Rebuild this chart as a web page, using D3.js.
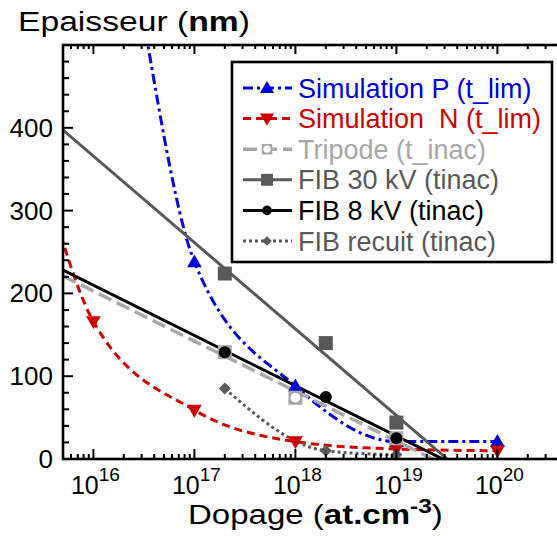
<!DOCTYPE html>
<html><head><meta charset="utf-8">
<script src="https://cdn.jsdelivr.net/npm/d3@7"></script>
<style>
body{margin:0;background:#fff}
svg{display:block}
text{font-family:"Liberation Sans",Arial,sans-serif;white-space:pre}
</style>
</head><body><svg id="c" width="557" height="536"></svg>
<script>
// ---------- data ----------
const yTicks = [0, 100, 200, 300, 400];
const xDecades = [1e16, 1e17, 1e18, 1e19, 1e20];
const xDecadeExps = ["16", "17", "18", "19", "20"];

const simPX = [3.3e16, 1e17, 1e18, 1e19, 1e20];
const simPY = [515, 238, 88, 21, 21];
const simNX = [4e15, 1e16, 1e17, 1e18, 1e19, 1e20];
const simNY = [300, 166, 59, 21, 12, 10];
const tripodeX = [2e17, 1e18, 1e19];
const tripodeY = [129, 74, 25];
const fib30X = [2e17, 2e18, 1e19];
const fib30Y = [224, 140, 44];
const fib8X = [2e17, 2e18, 1e19];
const fib8Y = [129, 75, 25];
const recuitX = [2e17, 2e18, 1e19];
const recuitY = [85, 10, 5];

const legendLabels = ["Simulation P (t_lim)", "Simulation  N (t_lim)", "Tripode (t_inac)",
  "FIB 30 kV (tinac)", "FIB 8 kV (tinac)", "FIB recuit (tinac)"];

// ---------- setup ----------
const svg = d3.select("#c");
const x = d3.scaleLog().domain([5e15, 5e20]).range([63, 568]);
const y = d3.scaleLinear().domain([0, 500]).range([459, 45]);
const X0 = x.range()[0], X1 = x.range()[1], Y0 = y.range()[0], Y1 = y.range()[1];

const defs = svg.append("defs");
defs.append("clipPath").attr("id", "plotClip").append("rect")
  .attr("x", X0).attr("y", Y1).attr("width", X1 - X0).attr("height", Y0 - Y1);
defs.append("clipPath").attr("id", "markClip").append("rect")
  .attr("x", X0 + 1).attr("y", Y1).attr("width", X1 - X0).attr("height", Y0 - Y1 + 15);

const zip = (xs, ys) => xs.map((v, i) => [v, ys[i]]);

const styles = {
  simP: {color: "#0000dd", dash: "10,4,3,4", width: 3},
  simN: {color: "#cc0000", dash: "8,5", width: 3},
  tripode: {color: "#a8a8a8", dash: "14,6", width: 3.5},
  fib30: {color: "#595959", dash: null, width: 3},
  fib8: {color: "#000000", dash: null, width: 3},
  recuit: {color: "#5a5a5a", dash: "3,3", width: 3}
};

function logFit(xs, ys) {
  const lx = xs.map(Math.log10);
  const mx = d3.mean(lx), my = d3.mean(ys);
  let sxy = 0, sxx = 0;
  lx.forEach((v, i) => { sxy += (v - mx) * (ys[i] - my); sxx += (v - mx) * (v - mx); });
  const b = sxy / sxx;
  return xv => my + b * (Math.log10(xv) - mx);
}

const lineGen = d3.line().x(d => x(d[0])).y(d => y(d[1]));
const smoothGen = d3.line().x(d => x(d[0])).y(d => y(d[1])).curve(d3.curveMonotoneX);

const gLines = svg.append("g").attr("clip-path", "url(#plotClip)");
const gMarks = svg.append("g").attr("clip-path", "url(#markClip)");

function drawPath(g, d, gen, st) {
  g.append("path").attr("d", gen(d)).attr("fill", "none")
    .attr("stroke", st.color).attr("stroke-width", st.width)
    .attr("stroke-dasharray", st.dash).attr("stroke-linejoin", "round");
}
function drawTrend(xs, ys, st) {
  const f = logFit(xs, ys);
  const dom = x.domain();
  drawPath(gLines, [[dom[0], f(dom[0])], [dom[1], f(dom[1])]], lineGen, st);
}

const markers = {
  triUp: (g, cx, cy, s = 1) => g.append("path").attr("transform", `translate(${cx},${cy + 1})`)
    .attr("d", d3.symbol(d3.symbolTriangle, 95 * s)()).attr("fill", styles.simP.color),
  triDown: (g, cx, cy, s = 1) => g.append("path").attr("transform", `translate(${cx},${cy - 1}) rotate(180)`)
    .attr("d", d3.symbol(d3.symbolTriangle, 95 * s)()).attr("fill", styles.simN.color),
  tripode: (g, cx, cy, s = 1) => {
    const h = 7 * s;
    g.append("rect").attr("x", cx - h).attr("y", cy - h).attr("width", 2 * h).attr("height", 2 * h)
      .attr("fill", styles.tripode.color);
    g.append("circle").attr("cx", cx).attr("cy", cy).attr("r", 4.8 * s).attr("fill", "#fff");
  },
  square: (g, cx, cy, s = 1) => {
    const h = 7 * s;
    g.append("rect").attr("x", cx - h).attr("y", cy - h).attr("width", 2 * h).attr("height", 2 * h)
      .attr("fill", styles.fib30.color);
  },
  circle: (g, cx, cy, s = 1) => g.append("circle").attr("cx", cx).attr("cy", cy).attr("r", 6 * s).attr("fill", "#000"),
  diamond: (g, cx, cy, s = 1) => {
    const h = 6 * s;
    g.append("path").attr("d", `M${cx},${cy - h}L${cx + h},${cy}L${cx},${cy + h}L${cx - h},${cy}Z`)
      .attr("fill", styles.recuit.color);
  }
};
function drawMarks(xs, ys, m) {
  xs.forEach((v, i) => markers[m](gMarks, x(v), y(ys[i])));
}

// ---------- axes ----------
const axisG = svg.append("g");
d3.range(0, 501, 20).forEach(v => {
  const major = v % 100 === 0;
  axisG.append("line").attr("x1", X0).attr("x2", X0 + (major ? 10 : 6))
    .attr("y1", y(v)).attr("y2", y(v)).attr("stroke", "#000").attr("stroke-width", 2);
});
const xTickVals = [];
for (let e = 15; e <= 20; e++) for (let m = 1; m <= 9; m++) {
  const v = m * Math.pow(10, e);
  if (v >= x.domain()[0] && v <= x.domain()[1]) xTickVals.push({v, major: m === 1});
}
xTickVals.forEach(t => {
  const len = t.major ? 10 : 5;
  axisG.append("line").attr("x1", x(t.v)).attr("x2", x(t.v)).attr("y1", Y0).attr("y2", Y0 - len)
    .attr("stroke", "#000").attr("stroke-width", 2);
  axisG.append("line").attr("x1", x(t.v)).attr("x2", x(t.v)).attr("y1", Y1).attr("y2", Y1 + len - 1)
    .attr("stroke", "#000").attr("stroke-width", 2);
});
axisG.append("rect").attr("x", X0).attr("y", Y1).attr("width", X1 - X0).attr("height", Y0 - Y1)
  .attr("fill", "none").attr("stroke", "#000").attr("stroke-width", 2.6);

yTicks.forEach(v => {
  svg.append("text").attr("x", 53).attr("y", y(v) + 9).attr("text-anchor", "end")
    .attr("font-size", 26).text(String(v));
});
xDecades.forEach((v, i) => {
  const t = svg.append("text").attr("x", x(v) + 2).attr("y", 494).attr("text-anchor", "middle");
  t.append("tspan").attr("font-size", 25).text("10");
  t.append("tspan").attr("font-size", 19).attr("dy", -13).text(xDecadeExps[i]);
});

function stretch(sel, target) {
  const n = sel.node();
  const b = n.getBBox();
  const k = target / b.width;
  sel.attr("transform", `translate(${b.x},0) scale(${k},1) translate(${-b.x},0)`);
}

const title = svg.append("text").attr("x", 18).attr("y", 31).attr("font-size", 28);
title.append("tspan").text("Epaisseur (");
title.append("tspan").attr("font-weight", "bold").text("nm");
title.append("tspan").text(")");
stretch(title, 232);

const xt = svg.append("text").attr("x", 188).attr("y", 524).attr("font-size", 27);
xt.append("tspan").text("Dopage (");
xt.append("tspan").attr("font-weight", "bold").text("at.cm");
xt.append("tspan").attr("font-weight", "bold").attr("font-size", 20).attr("dy", -11).text("-3");
xt.append("tspan").attr("dy", 11).text(")");
stretch(xt, 255);

// ---------- series ----------
drawPath(gLines, zip(simPX, simPY), smoothGen, styles.simP);
drawMarks(simPX, simPY, "triUp");
drawPath(gLines, zip(simNX, simNY), smoothGen, styles.simN);
drawMarks(simNX, simNY, "triDown");
drawTrend(tripodeX, tripodeY, styles.tripode);
drawMarks(tripodeX, tripodeY, "tripode");
drawTrend(fib30X, fib30Y, styles.fib30);
drawMarks(fib30X, fib30Y, "square");
drawTrend(fib8X, fib8Y, styles.fib8);
drawMarks(fib8X, fib8Y, "circle");
drawPath(gLines, zip(recuitX, recuitY), smoothGen, styles.recuit);
drawMarks(recuitX, recuitY, "diamond");

// ---------- legend ----------
const lg = svg.append("g");
lg.append("rect").attr("x", 232).attr("y", 62).attr("width", 320).attr("height", 200)
  .attr("fill", "#fff").attr("stroke", "#000").attr("stroke-width", 2.6);
const legendKeys = ["simP", "simN", "tripode", "fib30", "fib8", "recuit"];
const legendMarks = ["triUp", "triDown", "tripode", "square", "circle", "diamond"];
const legendScale = [0.9, 0.9, 0.75, 0.85, 0.8, 0.8];
legendKeys.forEach((k, i) => {
  const cy = 88 + i * 30.6;
  const st = styles[k];
  lg.append("line").attr("x1", 243).attr("x2", 292).attr("y1", cy).attr("y2", cy)
    .attr("stroke", st.color).attr("stroke-width", st.width).attr("stroke-dasharray", st.dash);
  markers[legendMarks[i]](lg, 267, cy, legendScale[i]);
  lg.append("text").attr("x", 298).attr("y", cy + 9.5).attr("font-size", 27)
    .attr("fill", st.color).text(legendLabels[i]);
});
</script>
</body></html>
